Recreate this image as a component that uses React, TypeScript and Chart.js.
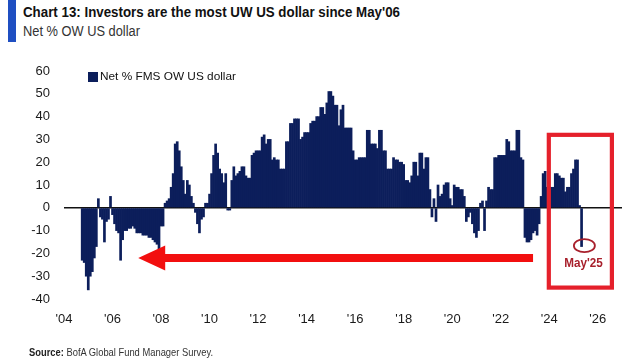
import React, { useEffect, useLayoutEffect, useRef } from 'react';
import { Chart, registerables } from 'chart.js';

Chart.register(...registerables);

// Axis runs monthly from Jan 2004 to Jan 2027
const axisStartYear = 2004;
const axisMonthCount = 277;

// Series starts Oct 2004 (monthly), ends May 2025
const seriesStartYear = 2004;
const seriesStartMonth = 10;
const netOwUsd: number[] = [
  -23, -24, -30,
  -36, -30, -28, -22, -17, 4, -4, -5, -15, -6, -5, 5,
  -3, -7, -10, -11, -23, -14, -10, -10, -9, -9, -8, -9,
  -11, -11, -11, -12, -12, -12, -13, -13, -14, -15, -16, -18,
  -8, -8, 2, 3, 4, 9, 15, 28, 29, 25, 18, 12,
  6, 12, 10, 5, 2, -2, -7, -11, -5, -4, 2, 2,
  6, 15, 23, 28, 24, 17, 15, 11, 15, -1, -1, 12,
  18, 14, 15, 16, 18, 18, 14, 13, 13, 23, 24, 25,
  25, 25, 31, 32, 28, 30, 30, 21, 22, 21, 21, 17,
  17, 17, 29, 29, 37, 37, 39, 39, 39, 30, 31, 33,
  33, 33, 37, 38, 38, 40, 40, 44, 44, 41, 46, 51,
  51, 49, 45, 45, 36, 43, 45, 35, 35, 35, 35, 25,
  21, 21, 22, 22, 22, 22, 34, 34, 28, 28, 28, 26,
  34, 34, 25, 25, 17, 17, 17, 22, 21, 21, 20, 20,
  19, 12, 12, 11, 14, 20, 20, 14, 24, 24, 17, 22,
  22, 8, -4, 4, -6, 10, 5, 6, 10, 11, 11, 4,
  1, 10, 9, 9, 8, 8, 5, -6, -4, -2, -7, -11,
  -13, -10, 2, 3, -10, 3, 9, 8, 8, 22, 22, 23,
  23, 23, 23, 30, 29, 25, 25, 25, 34, 34, 22, 21,
  -13, -15, -15, -14, -11, -10, -12, -7, 5, 15, 16, 9,
  9, 9, 9, 15, 15, 14, 13, 13, 7, 9, 9, 15,
  17, 21, 21, 1, -17,
];

const xTickLabels = ["'04", "'06", "'08", "'10", "'12", "'14", "'16", "'18", "'20", "'22", "'24", "'26"];
const yMin = -40;
const yMax = 60;
const yStep = 10;

// Annotation anchors in data units (month index from Jan 2004, value)
const arrowTipMonth = 36.7;
const arrowTailMonth = 232;
const arrowValue = -22;
const boxMonths = [239.8, 271];
const boxValues = [32, -35];
const circleMonth = 257.4;
const circleValue = -16.6;
const calloutText = "May'25";
const calloutValue = -24.2;

const seriesName = 'Net % FMS OW US dollar';
const NAVY = '#0c1e5b';

const monthLabels: string[] = [];
for (let i = 0; i < axisMonthCount; i++) {
  const yr = axisStartYear + Math.floor(i / 12);
  const mo = (i % 12) + 1;
  monthLabels.push(`${yr}-${mo < 10 ? '0' + mo : mo}`);
}
const seriesOffset = (seriesStartYear - axisStartYear) * 12 + (seriesStartMonth - 1);
const alignedData: (number | null)[] = monthLabels.map((_, i) => {
  const k = i - seriesOffset;
  return k >= 0 && k < netOwUsd.length ? netOwUsd[k] : null;
});

const annotationPlugin = {
  id: 'annot',
  afterDraw(chart: any) {
    const { ctx } = chart;
    const x = chart.scales.x;
    const y = chart.scales.y;
    ctx.save();
    // Arrow
    const tipX = x.getPixelForValue(arrowTipMonth);
    const tailX = x.getPixelForValue(arrowTailMonth);
    const ay = y.getPixelForValue(arrowValue);
    const headLen = 27;
    const headHalf = 12.5;
    const shaftHalf = 4;
    ctx.fillStyle = '#f20f0f';
    ctx.beginPath();
    ctx.moveTo(tipX, ay);
    ctx.lineTo(tipX + headLen, ay - headHalf);
    ctx.lineTo(tipX + headLen, ay - shaftHalf);
    ctx.lineTo(tailX, ay - shaftHalf);
    ctx.lineTo(tailX, ay + shaftHalf);
    ctx.lineTo(tipX + headLen, ay + shaftHalf);
    ctx.lineTo(tipX + headLen, ay + headHalf);
    ctx.closePath();
    ctx.fill();
    // Box
    const bx1 = x.getPixelForValue(boxMonths[0]);
    const bx2 = x.getPixelForValue(boxMonths[1]);
    const by1 = y.getPixelForValue(boxValues[0]);
    const by2 = y.getPixelForValue(boxValues[1]);
    ctx.strokeStyle = '#e5202b';
    ctx.lineWidth = 4.2;
    ctx.strokeRect(bx1, by1, bx2 - bx1, by2 - by1);
    // Circle
    const cx = x.getPixelForValue(circleMonth);
    const cy = y.getPixelForValue(circleValue);
    ctx.strokeStyle = '#a8202c';
    ctx.lineWidth = 1.8;
    ctx.beginPath();
    ctx.ellipse(cx, cy, 10.5, 6.5, 0, 0, Math.PI * 2);
    ctx.stroke();
    // Callout text
    ctx.fillStyle = '#a8202c';
    ctx.font = 'bold 13px "Liberation Sans", Arial, sans-serif';
    ctx.textAlign = 'center';
    ctx.textBaseline = 'middle';
    const tx = x.getPixelForValue(circleMonth - 0.4);
    const ty = y.getPixelForValue(calloutValue);
    ctx.save();
    ctx.translate(tx, ty);
    ctx.scale(0.9, 1);
    ctx.fillText(calloutText, 0, 0);
    ctx.restore();
    ctx.restore();
  },
};

function FitText(props: { left: number; top: number; width: number; size: number; weight?: number; color?: string; children: any }) {
  const ref = useRef<HTMLSpanElement>(null);
  useLayoutEffect(() => {
    const el = ref.current;
    if (!el) return;
    const fit = () => {
      el.style.transform = 'none';
      const w = el.getBoundingClientRect().width;
      if (w > 0) el.style.transform = `scaleX(${props.width / w})`;
    };
    fit();
    if ((document as any).fonts && (document as any).fonts.ready) {
      (document as any).fonts.ready.then(fit);
    }
  }, [props.width]);
  return (
    <span
      ref={ref}
      style={{
        position: 'absolute',
        left: props.left,
        top: props.top,
        whiteSpace: 'nowrap',
        transformOrigin: '0 0',
        fontFamily: '"Liberation Sans", Arial, sans-serif',
        fontSize: props.size,
        fontWeight: props.weight ?? 400,
        color: props.color ?? '#222',
        lineHeight: 1,
      }}
    >
      {props.children}
    </span>
  );
}

export default function App() {
  const canvasRef = useRef<HTMLCanvasElement>(null);

  useEffect(() => {
    if (!canvasRef.current) return;
    const tickFont = { family: '"Liberation Sans", Arial, sans-serif', size: 13 };
    const chart = new Chart(canvasRef.current, {
      type: 'bar',
      data: {
        labels: monthLabels,
        datasets: [
          {
            label: seriesName,
            data: alignedData,
            backgroundColor: NAVY,
            borderWidth: 0,
            barPercentage: 1,
            categoryPercentage: 1,
          },
        ],
      },
      options: {
        responsive: false,
        animation: false,
        devicePixelRatio: 1,
        layout: { padding: { top: 71, left: 0, right: 2, bottom: 0 }, autoPadding: false },
        plugins: { legend: { display: false }, tooltip: { enabled: false }, title: { display: false } },
        scales: {
          x: {
            type: 'category',
            offset: false,
            grid: { display: false, drawTicks: true, tickLength: 13 },
            border: { display: false },
            ticks: {
              autoSkip: false,
              maxRotation: 0,
              minRotation: 0,
              padding: 0,
              color: '#1a1a1a',
              font: tickFont,
              callback: (_v: any, index: number) => (index % 24 === 0 ? xTickLabels[index / 24] ?? '' : ''),
            },
            afterFit: (s: any) => {
              s.height = 61;
            },
          },
          y: {
            type: 'linear',
            min: yMin,
            max: yMax,
            z: 1,
            border: { display: false },
            grid: {
              display: true,
              drawTicks: false,
              color: (c: any) => (c.tick && c.tick.value === 0 ? '#111111' : 'rgba(0,0,0,0)'),
              lineWidth: (c: any) => (c.tick && c.tick.value === 0 ? 1.6 : 0),
            },
            ticks: { stepSize: yStep, padding: 14, color: '#1a1a1a', font: tickFont },
            afterFit: (s: any) => {
              s.width = 64;
            },
          },
        },
      } as any,
      plugins: [annotationPlugin],
    });
    return () => chart.destroy();
  }, []);

  return (
    <div style={{ position: 'absolute', left: 0, top: 0, width: 624, height: 360, background: '#fff', overflow: 'hidden' }}>
      <div style={{ position: 'absolute', left: 8, top: 0, width: 8, height: 42, background: '#1f4fc2' }} />
      <FitText left={23} top={4.2} width={377} size={15.5} weight={700} color="#111">
        Chart 13: Investors are the most UW US dollar since May'06
      </FitText>
      <FitText left={23} top={24.1} width={117} size={14} color="#333">
        Net % OW US dollar
      </FitText>
      <canvas ref={canvasRef} width={624} height={360} style={{ position: 'absolute', left: 0, top: 0, width: 624, height: 360 }} />
      <div style={{ position: 'absolute', left: 88, top: 72, width: 10, height: 10, background: NAVY }} />
      <FitText left={100} top={71} width={136} size={11.5} color="#111">
        {seriesName}
      </FitText>
      <FitText left={29} top={346.7} width={184} size={11} color="#333">
        <b style={{ color: '#222' }}>Source:</b> BofA Global Fund Manager Survey.
      </FitText>
    </div>
  );
}
